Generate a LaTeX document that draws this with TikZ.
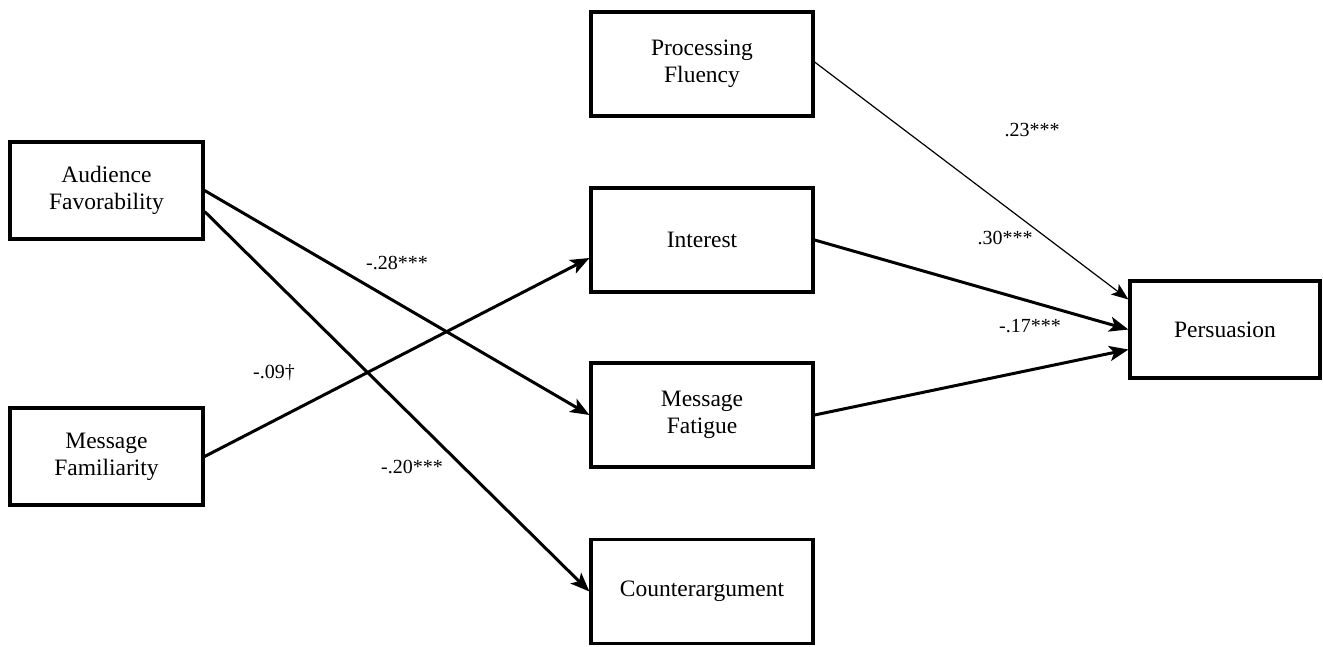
\documentclass[tikz,border=0pt]{standalone}
\usepackage{fontspec}
\setmainfont{Liberation Serif}
\usetikzlibrary{arrows.meta}
\begin{document}
\begin{tikzpicture}[x=1pt,y=-1pt,
  box/.style={draw, line width=3.2pt, fill=white, align=center, inner sep=0pt,
    font=\fontsize{23.5}{27}\selectfont},
  sidebox/.style={box, minimum width=193pt, minimum height=97pt},
  midbox/.style={box, minimum width=222pt, minimum height=104pt},
  lbl/.style={font=\fontsize{20}{24}\selectfont, inner sep=0pt},
  arr/.style={line width=3pt, -{Stealth[length=19pt,width=15pt,inset=4.5pt]}},
  thinarr/.style={line width=1.2pt, -{Stealth[length=17pt,width=13pt,inset=4pt]}}
]
\useasboundingbox (0,0) rectangle (1323,646);

\node[sidebox] (aud) at (106.5,190.5) {Audience\\Favorability};
\node[sidebox] (fam) at (106.5,456.5) {Message\\Familiarity};
\node[midbox] (flu) at (702,64) {Processing\\Fluency};
\node[midbox] (int) at (702,240) {Interest};
\node[midbox] (fat) at (702,415) {Message\\Fatigue};
\node[midbox] (cou) at (702,591.5) {Counterargument};
\node[box, minimum width=190pt, minimum height=97pt] (per) at (1225,329.5) {Persuasion};

\draw[arr] (aud.east) -- (fat.west);
\draw[arr] ([yshift=-21pt]aud.east) -- (cou.west);
\draw[arr] (fam.east) -- ([yshift=-18pt]int.west);
\draw[thinarr] ([yshift=2pt]flu.east) -- ([yshift=30pt]per.west);
\draw[arr] (int.east) -- (per.west);
\draw[arr] (fat.east) -- ([yshift=-20pt]per.west);

\node[lbl] (l28) at (397,263) {-.28***};
\node[lbl] (l09) at (274,373) {-.09†};
\node[lbl] (l20) at (412,467) {-.20***};
\node[lbl] (l23) at (1032,130) {.23***};
\node[lbl] (l30) at (1005,238) {.30***};
\node[lbl] (l17) at (1030,326) {-.17***};
\end{tikzpicture}
\end{document}
